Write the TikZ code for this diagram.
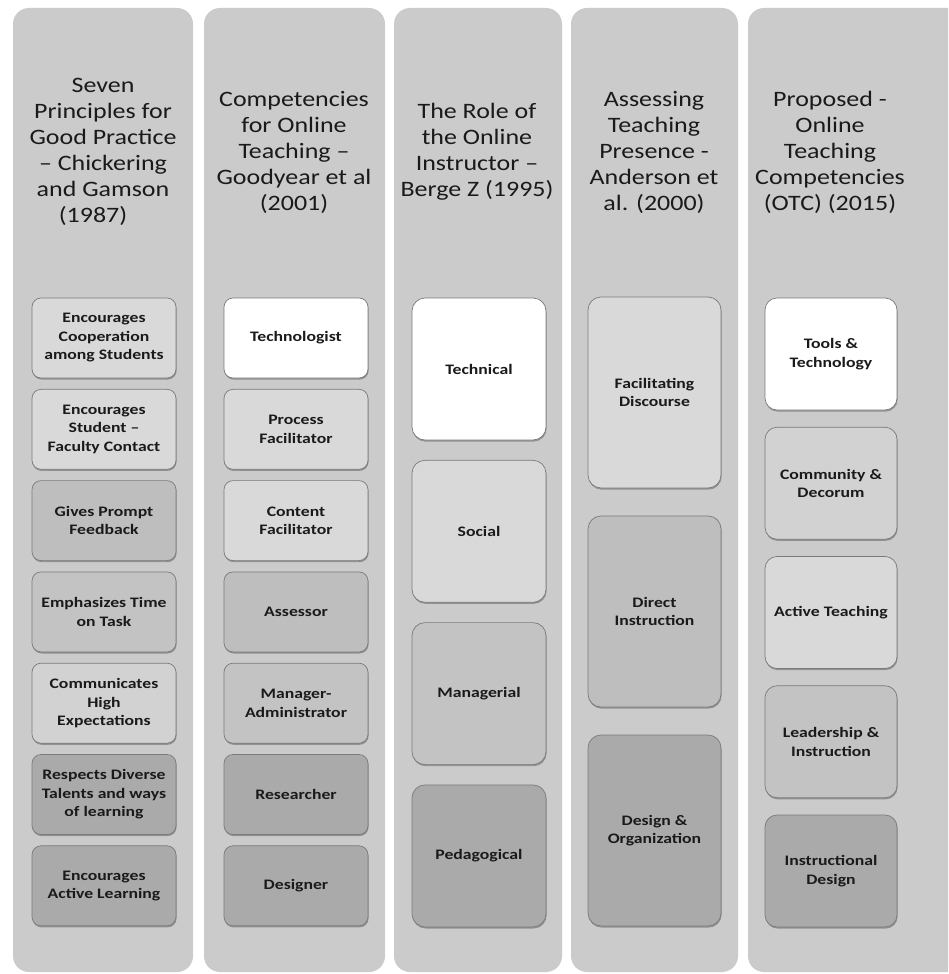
\documentclass[tikz,border=0pt]{standalone}
\usepackage{fontspec}
\setmainfont{Carlito}
\newfontfamily\stretchfont[FakeStretch=1.18]{Carlito}
\newfontfamily\boxfont[FakeStretch=1.22]{Carlito}
\usetikzlibrary{shadows}
\definecolor{colbg}{HTML}{CBCBCB}
\definecolor{cwhite}{HTML}{FFFFFF}
\definecolor{clight}{HTML}{D9D9D9}
\definecolor{clightb}{HTML}{D2D2D2}
\definecolor{cmid}{HTML}{C3C3C3}
\definecolor{cmidb}{HTML}{BEBEBE}
\definecolor{cdark}{HTML}{AAAAAA}
\definecolor{edgec}{HTML}{7A7A7A}
\definecolor{txt}{HTML}{1A1A1A}
\tikzset{
  colback/.style={fill=colbg, draw=none, rounded corners=16pt},
  title/.style={align=center, text=txt, font=\stretchfont\fontsize{22}{26}\selectfont, inner sep=0pt},
  itembox/.style={draw=edgec, line width=0.7pt, rounded corners=9pt, align=center, text=txt,
    font=\boxfont\bfseries\fontsize{14.5}{18.5}\selectfont, inner sep=2pt,
    drop shadow={shadow xshift=0.6pt, shadow yshift=-1.6pt, opacity=0.45, fill=black!70}},
  smallbox/.style={itembox, minimum width=144pt, minimum height=80pt},
  rolebox/.style={itembox, rounded corners=13pt, minimum width=134pt, minimum height=142pt},
  presbox/.style={itembox, rounded corners=13pt, minimum width=133pt, minimum height=191pt},
  otcbox/.style={itembox, rounded corners=12pt, minimum width=132pt, minimum height=112pt},
}
\begin{document}
\begin{tikzpicture}[x=1pt,y=-1pt]
\clip (0,0) rectangle (948,974);
\useasboundingbox (0,0) rectangle (948,974);
\fill[white] (0,0) rectangle (948,974);
% column backgrounds
\fill[colback] (13,8) rectangle (193,972);
\fill[colback] (204,8) rectangle (385,972);
\fill[colback] (394,8) rectangle (562,972);
\fill[colback] (571,8) rectangle (738,972);
\fill[colback] (748,8) rectangle (966,972);
% titles
\node[title] (t1) at (103,152) {Seven\\Principles for\\Good Practice\\– Chickering\\and Gamson\\(1987)\kern20pt};
\node[title] (t2) at (294,152) {Competencies\\for Online\\Teaching –\\Goodyear et al\\(2001)};
\node[title] (t3) at (477,152) {The Role of\\the Online\\Instructor –\\Berge Z (1995)};
\node[title] (t4) at (654,152) {Assessing\\Teaching\\Presence -\\Anderson et\\al. (2000)};
\node[title] (t5) at (830,152) {Proposed -\\Online\\Teaching\\Competencies\\(OTC) (2015)};
% column 1
\node[smallbox, fill=clight]  (a1) at (104,338)   {Encourages\\Cooperation\\among Students};
\node[smallbox, fill=clight]  (a2) at (104,429.3) {Encourages\\Student –\\Faculty Contact};
\node[smallbox, fill=cmidb]   (a3) at (104,520.6) {Gives Prompt\\Feedback};
\node[smallbox, fill=cmid]    (a4) at (104,611.9) {Emphasizes Time\\on Task};
\node[smallbox, fill=clightb] (a5) at (104,703.2) {Communicates\\High\\Expectations};
\node[smallbox, fill=cdark]   (a6) at (104,794.5) {Respects Diverse\\Talents and ways\\of learning};
\node[smallbox, fill=cdark]   (a7) at (104,885.8) {Encourages\\Active Learning};
% column 2
\node[smallbox, fill=cwhite]  (b1) at (296,338)   {Technologist};
\node[smallbox, fill=clight]  (b2) at (296,429.3) {Process\\Facilitator};
\node[smallbox, fill=clight]  (b3) at (296,520.6) {Content\\Facilitator};
\node[smallbox, fill=cmidb]   (b4) at (296,611.9) {Assessor};
\node[smallbox, fill=cmid]    (b5) at (296,703.2) {Manager-\\Administrator};
\node[smallbox, fill=cdark]   (b6) at (296,794.5) {Researcher};
\node[smallbox, fill=cdark]   (b7) at (296,885.8) {Designer};
% column 3
\node[rolebox, fill=cwhite]  (c1) at (479,369)   {Technical};
\node[rolebox, fill=clight]  (c2) at (479,531.3) {Social};
\node[rolebox, fill=cmid]    (c3) at (479,693.6) {Managerial};
\node[rolebox, fill=cdark]   (c4) at (479,855.9) {Pedagogical};
% column 4
\node[presbox, fill=clight]  (d1) at (654.5,392.5) {Facilitating\\Discourse};
\node[presbox, fill=cmidb]   (d2) at (654.5,611.5) {Direct\\Instruction};
\node[presbox, fill=cdark]   (d3) at (654.5,830.5) {Design \&\\Organization};
% column 5
\node[otcbox, fill=cwhite]  (e1) at (831,354)    {Tools \&\\Technology};
\node[otcbox, fill=clightb] (e2) at (831,483.25) {Community \&\\Decorum};
\node[otcbox, fill=clight]  (e3) at (831,612.5)  {Active Teaching};
\node[otcbox, fill=cmid]    (e4) at (831,741.75) {Leadership \&\\Instruction};
\node[otcbox, fill=cdark]   (e5) at (831,871)    {Instructional\\Design};
\end{tikzpicture}
\end{document}
